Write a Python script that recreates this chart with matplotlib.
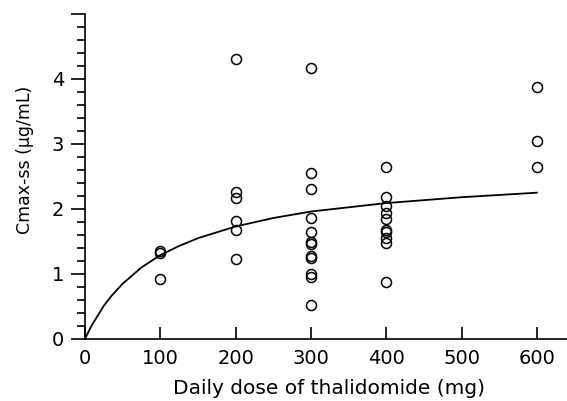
import matplotlib
matplotlib.use("Agg")
import matplotlib.pyplot as plt
from matplotlib.ticker import MultipleLocator

plt.rcParams['font.family'] = ['DejaVu Sans']

dose_100 = [100, 100, 100]
cmax_100 = [1.35, 1.32, 0.92]
dose_200 = [200] * 6
cmax_200 = [4.31, 2.26, 2.17, 1.82, 1.67, 1.23]
dose_300 = [300] * 12
cmax_300 = [4.17, 2.56, 2.31, 1.86, 1.64, 1.49, 1.46, 1.27, 1.25, 1.00, 0.95, 0.52]
dose_400 = [400] * 10
cmax_400 = [2.65, 2.19, 2.04, 1.94, 1.85, 1.68, 1.65, 1.55, 1.48, 0.88]
dose_600 = [600] * 3
cmax_600 = [3.87, 3.05, 2.64]

curve_dose = [0, 5, 10, 25, 35, 50, 75, 100, 125, 150, 200, 250, 300, 400, 500, 600]
curve_cmax = [0, 0.12, 0.23, 0.51, 0.66, 0.85, 1.10, 1.29, 1.43, 1.55, 1.73, 1.86, 1.96, 2.09, 2.18, 2.25]

x_ticks = [0, 100, 200, 300, 400, 500, 600]
y_ticks = [0, 1, 2, 3, 4, 5]
y_tick_labels = ['0', '1', '2', '3', '4', '']

fig = plt.figure(figsize=(5.67, 4.01), dpi=100)
ax = fig.add_axes([0.150, 0.155, 0.85, 0.810])

doses = dose_100 + dose_200 + dose_300 + dose_400 + dose_600
cmaxs = cmax_100 + cmax_200 + cmax_300 + cmax_400 + cmax_600
ax.plot(doses, cmaxs, linestyle='none', marker='o', markersize=7.2,
        markerfacecolor='none', markeredgecolor='black', markeredgewidth=1.1, clip_on=False)
ax.plot(curve_dose, curve_cmax, color='black', linewidth=1.3)

ax.set_xlim(0, 640)
ax.set_ylim(0, 5)
ax.set_xticks(x_ticks)
ax.set_yticks(y_ticks)
ax.set_yticklabels(y_tick_labels)
ax.yaxis.set_minor_locator(MultipleLocator(0.2))

for s in ['top', 'right']:
    ax.spines[s].set_visible(False)
for s in ['left', 'bottom']:
    ax.spines[s].set_linewidth(1.2)

ax.tick_params(axis='x', direction='in', length=9, width=1.2, labelsize=14, pad=7)
ax.tick_params(axis='y', which='major', direction='out', length=10, width=1.2, labelsize=14, pad=5)
ax.tick_params(axis='y', which='minor', direction='out', length=6, width=1.2)

ax.set_xlabel('Daily dose of thalidomide (mg)', fontsize=14.5)
ax.set_ylabel('Cmax-ss (µg/mL)', fontsize=12.5)
ax.xaxis.set_label_coords(0.506, -0.125)
ax.yaxis.set_label_coords(-0.106, 0.55)

fig.savefig('out.png', dpi=100)
